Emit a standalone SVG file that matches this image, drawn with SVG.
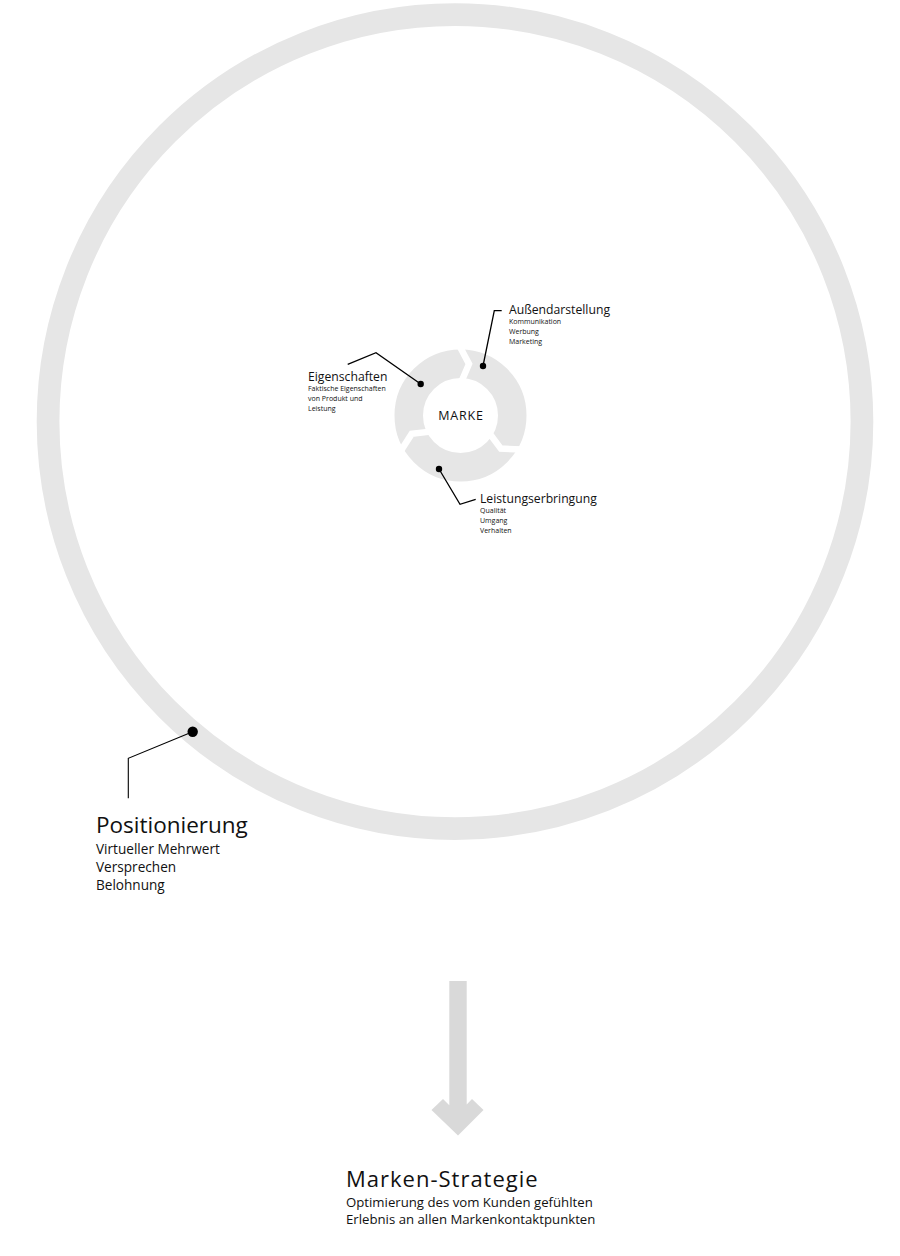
<svg xmlns="http://www.w3.org/2000/svg" width="900" height="1256" viewBox="0 0 900 1256">
<style>
text{font-family:"Open Sans","Noto Sans","DejaVu Sans",sans-serif;fill:#111}
.t1{font-size:22px}
.t2{font-size:12.2px}
.t3{font-size:7px}
.sub{font-size:13.2px}
.ln{fill:none;stroke:#000;stroke-width:1.3}
.gap{fill:none;stroke:#fff;stroke-width:6.5;stroke-linejoin:miter}
</style>
<rect width="900" height="1256" fill="#fff"/>
<g id="positionierung-ring">
<circle cx="455" cy="421.6" r="406.95" fill="none" stroke="#e6e6e6" stroke-width="22.7"/>
</g>
<g id="marke">
<circle cx="460.5" cy="415.5" r="51.75" fill="none" stroke="#e6e6e6" stroke-width="28.5"/>
<polyline class="gap" points="459,344.9 469,364 461.6,381.3"/>
<polyline class="gap" points="459,344.9 469,364 461.6,381.3" transform="rotate(120 460.5 415.5)"/>
<polyline class="gap" points="459,344.9 469,364 461.6,381.3" transform="rotate(240 460.5 415.5)"/>
<text x="461" y="420" text-anchor="middle" style="font-size:12.5px;letter-spacing:0.8px">MARKE</text>
</g>
<g id="connectors">
<polyline class="ln" points="483,366 494.3,310.7 501.7,310.7"/>
<circle cx="483" cy="366" r="3.2"/>
<polyline class="ln" points="420.7,384 376,352.7 347.7,364.3"/>
<circle cx="420.7" cy="384" r="3.2"/>
<polyline class="ln" points="439,469 460,504.3 475.7,499.3"/>
<circle cx="439" cy="469" r="3.2"/>
<polyline class="ln" points="192.7,731.7 128.3,758.3 128.3,798.3" style="stroke-width:1.1"/>
<circle cx="192.7" cy="731.7" r="5.2"/>
<polygon points="449.3,981 466.7,981 466.7,1104.5 472,1099 483.5,1110 458,1135.5 431.5,1110 443,1099 449.3,1105.3" fill="#d9d9d9"/>
</g>
<g id="aussendarstellung">
<text class="t2" x="509" y="314">Außendarstellung</text>
<text class="t3" x="509" y="324.3">Kommunikation</text>
<text class="t3" x="509" y="334">Werbung</text>
<text class="t3" x="509" y="344">Marketing</text>
</g>
<g id="eigenschaften">
<text class="t2" x="308" y="380.7">Eigenschaften</text>
<text class="t3" x="308" y="390.7">Faktische Eigenschaften</text>
<text class="t3" x="308" y="400.7">von Produkt und</text>
<text class="t3" x="308" y="410.7">Leistung</text>
</g>
<g id="leistungserbringung">
<text class="t2" x="480" y="503.3">Leistungserbringung</text>
<text class="t3" x="480" y="513">Qualität</text>
<text class="t3" x="480" y="523">Umgang</text>
<text class="t3" x="480" y="533">Verhalten</text>
</g>
<g id="positionierung">
<text class="t1" x="96" y="833" style="font-size:22.5px">Positionierung</text>
<text class="sub" x="96" y="854.3" style="font-size:13.6px">Virtueller Mehrwert</text>
<text class="sub" x="96" y="872" style="font-size:13.6px">Versprechen</text>
<text class="sub" x="96" y="889.7" style="font-size:13.6px">Belohnung</text>
</g>
<g id="marken-strategie">
<text class="t1" x="346" y="1186.5" style="letter-spacing:1px">Marken-Strategie</text>
<text class="sub" x="346" y="1206.5">Optimierung des vom Kunden gefühlten</text>
<text class="sub" x="346" y="1224">Erlebnis an allen Markenkontaktpunkten</text>
</g>
</svg>
